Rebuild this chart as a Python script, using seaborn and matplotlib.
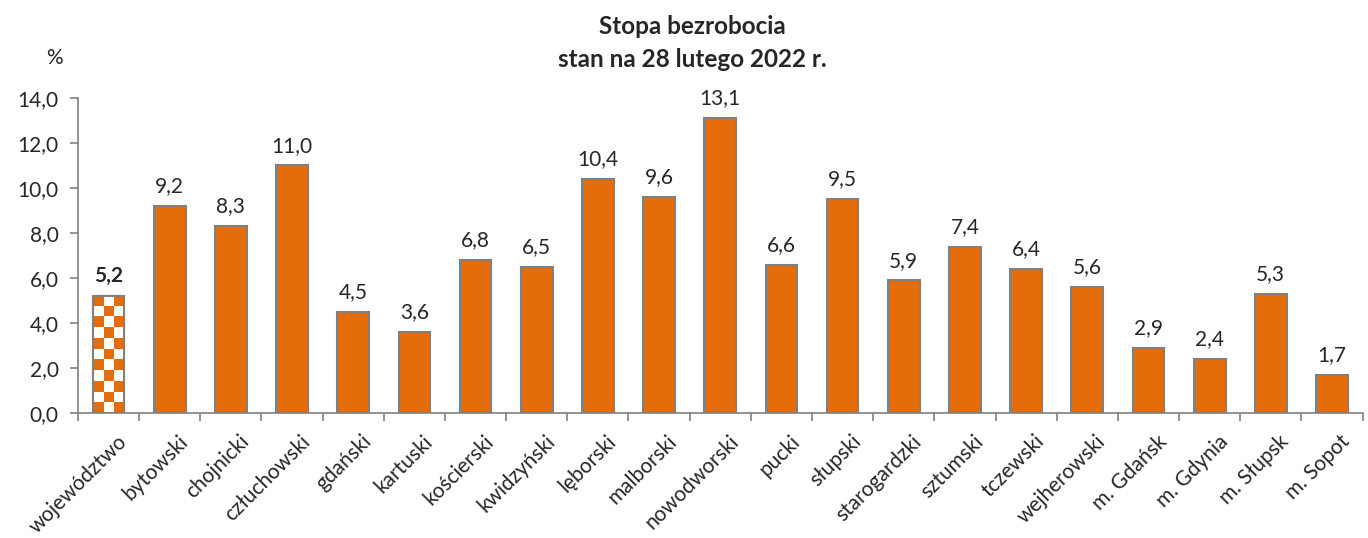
import numpy as np
import pandas as pd
import matplotlib
matplotlib.use("Agg")
import matplotlib.pyplot as plt
import seaborn as sns
from matplotlib.patches import Rectangle

categories = ["województwo", "bytowski", "chojnicki", "człuchowski", "gdański", "kartuski",
              "kościerski", "kwidzyński", "lęborski", "malborski", "nowodworski", "pucki",
              "słupski", "starogardzki", "sztumski", "tczewski", "wejherowski", "m. Gdańsk",
              "m. Gdynia", "m. Słupsk", "m. Sopot"]
values = [5.2, 9.2, 8.3, 11.0, 4.5, 3.6, 6.8, 6.5, 10.4, 9.6, 13.1, 6.6, 9.5, 5.9, 7.4,
          6.4, 5.6, 2.9, 2.4, 5.3, 1.7]
yticks = [0, 2, 4, 6, 8, 10, 12, 14]

sns.set_theme(style="white")
plt.rcParams['font.family'] = ['Lato', 'DejaVu Sans']

ORANGE = "#E46C0A"
GREY = "#808080"

df = pd.DataFrame({"kat": categories, "val": values})
fig = plt.figure(figsize=(13.68, 5.38), dpi=100)
ax = fig.add_axes([0.057, 0.232, 0.939, 0.586])

sns.barplot(data=df, x="kat", y="val", color=ORANGE, saturation=1, width=0.52,
            edgecolor=GREY, linewidth=1.5, ax=ax)

ax.set_xlim(-0.5, len(categories) - 0.5)
ax.set_ylim(0, 14)
ax.set_yticks(yticks)
ax.set_yticklabels([f"{v:.1f}".replace(".", ",") for v in yticks], fontsize=15)
ax.set_xlabel("")
ax.set_ylabel("")

# checkerboard first bar
p0 = ax.patches[0]
p0.set_facecolor("white")
x0, w, h = p0.get_x(), p0.get_width(), p0.get_height()
fig.canvas.draw()
(px0, py0), (px1, py1) = ax.transData.transform([(x0, 0), (x0 + w, h)])
ncol = 3
sq = (px1 - px0) / ncol
nrow = int(round((py1 - py0) / sq))
board = 1 - (np.indices((nrow, ncol)).sum(axis=0) % 2)
cmap = matplotlib.colors.ListedColormap(["white", ORANGE])
im = ax.imshow(board, cmap=cmap, extent=[x0, x0 + w, 0, h], aspect="auto",
               interpolation="nearest", zorder=p0.get_zorder() + 0.1, origin="upper")
im.set_clip_path(p0)
ax.add_patch(Rectangle((x0, 0), w, h, fill=False, edgecolor=GREY, linewidth=1.5,
                       zorder=p0.get_zorder() + 0.2))
ax.set_xlim(-0.5, len(categories) - 0.5)
ax.set_ylim(0, 14)

labels = [f"{v:.1f}".replace(".", ",") for v in values]
texts = ax.bar_label(ax.containers[0], labels=labels, padding=7, fontsize=15)
texts[0].set_fontweight("bold")

# ticks at category boundaries
ax.set_xticks(np.arange(-0.5, len(categories) + 0.5, 1), minor=True)
ax.set_xticks(np.arange(len(categories)))
ax.set_xticklabels(categories, rotation=45, ha="right", rotation_mode="anchor", fontsize=15)
ax.tick_params(axis="x", which="major", length=0, pad=13)
ax.tick_params(axis="x", which="minor", length=6, color=GREY, width=1.2, direction="out", bottom=True)
ax.tick_params(axis="y", length=6, color=GREY, width=1.2, direction="out", left=True, pad=8)
for t in ax.get_xticklabels():
    t.set_transform(t.get_transform() + matplotlib.transforms.ScaledTranslation(0.08, 0, fig.dpi_scale_trans))

for s in ["top", "right"]:
    ax.spines[s].set_visible(False)
for s in ["left", "bottom"]:
    ax.spines[s].set_color(GREY)
    ax.spines[s].set_linewidth(1.2)

fig.text(0.506, 0.95, "Stopa bezrobocia", ha="center", va="center", fontsize=17.5, fontweight="bold")
fig.text(0.506, 0.89, "stan na 28 lutego 2022 r.", ha="center", va="center", fontsize=17.5, fontweight="bold")
fig.text(0.04, 0.893, "%", ha="center", va="center", fontsize=15)

fig.savefig("out.png", dpi=100)
